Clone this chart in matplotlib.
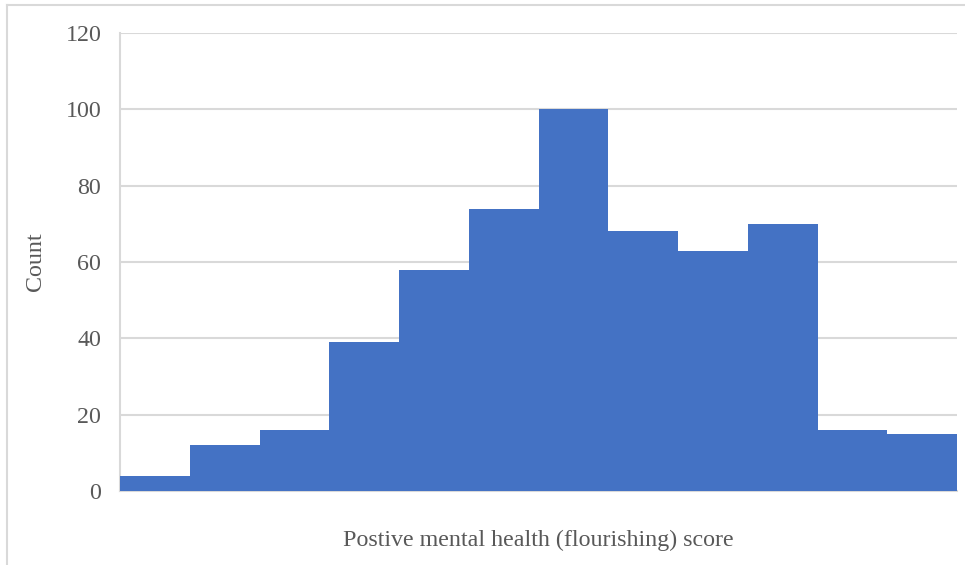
import numpy as np
import matplotlib.pyplot as plt
from matplotlib.lines import Line2D

# histogram bins (12 equal-width bins) and counts per bin
bin_index = np.arange(12)
counts = [4, 12, 16, 39, 58, 74, 100, 68, 63, 70, 16, 15]
y_ticks = [0, 20, 40, 60, 80, 100, 120]

BAR_COLOR = '#4472C4'
GRID_COLOR = '#D9D9D9'
TEXT_COLOR = '#595959'

plt.rcParams['font.family'] = ['Liberation Serif', 'DejaVu Serif']

fig = plt.figure(figsize=(9.65, 5.65), dpi=100)
ax = fig.add_axes([120 / 965, 1 - 491 / 565, (957 - 120) / 965, (491 - 33) / 565])

ax.bar(bin_index, counts, width=1.0, align='edge', color=BAR_COLOR,
       edgecolor='none', zorder=3)

ax.set_xlim(0, len(counts))
ax.set_ylim(0, 120)
ax.set_yticks(y_ticks)
ax.set_xticks([])
ax.yaxis.grid(True, color=GRID_COLOR, linewidth=1.5, zorder=0)
ax.tick_params(axis='y', length=0, pad=13.5, labelsize=17.3, labelcolor=TEXT_COLOR)

for side in ['top', 'right']:
    ax.spines[side].set_visible(False)
for side in ['left', 'bottom']:
    ax.spines[side].set_color(GRID_COLOR)
    ax.spines[side].set_linewidth(1.5)

ax.set_ylabel('Count', fontsize=17.3, color=TEXT_COLOR, labelpad=14)
ax.set_xlabel('Postive mental health (flourishing) score', fontsize=17.3,
              color=TEXT_COLOR, labelpad=28)

# chart area border (top and left edges)
fig.add_artist(Line2D([7 / 965, 1], [1 - 5 / 565, 1 - 5 / 565],
                      transform=fig.transFigure, color=GRID_COLOR, linewidth=1.5))
fig.add_artist(Line2D([7 / 965, 7 / 965], [0, 1 - 5 / 565],
                      transform=fig.transFigure, color=GRID_COLOR, linewidth=1.5))

fig.savefig('out.png', dpi=100, facecolor='white')
